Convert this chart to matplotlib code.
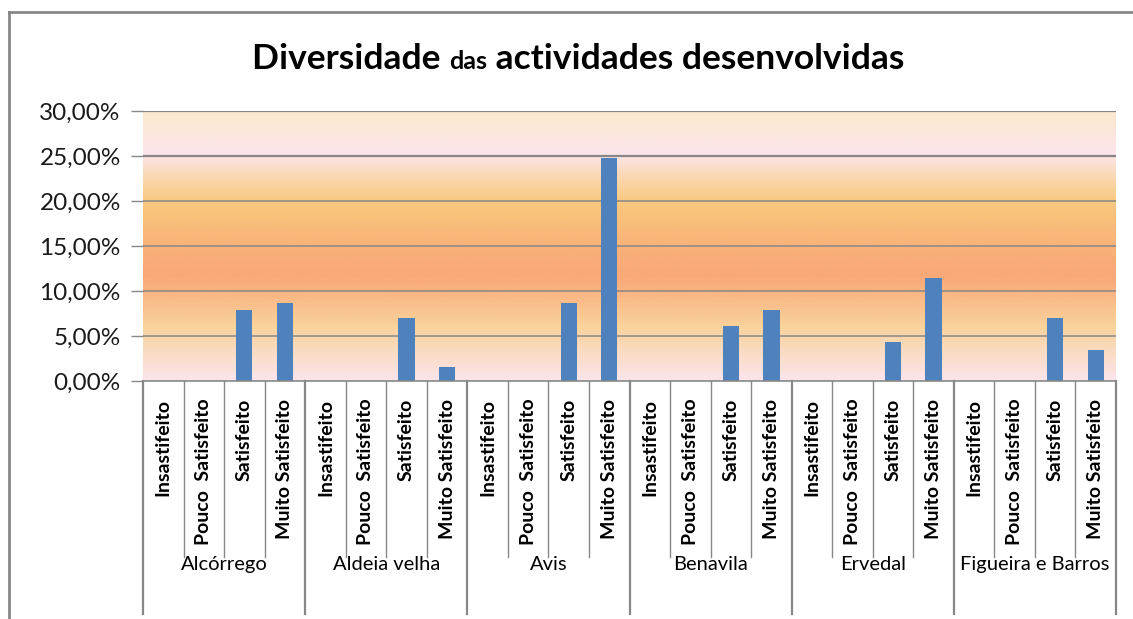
import numpy as np
import matplotlib
matplotlib.use("Agg")
import matplotlib.pyplot as plt
from matplotlib.colors import LinearSegmentedColormap
from matplotlib.lines import Line2D
from matplotlib.ticker import FuncFormatter
from matplotlib.transforms import blended_transform_factory

plt.rcParams["font.family"] = ["Lato", "DejaVu Sans"]

# data (percent)
groups = ["Alcórrego", "Aldeia velha", "Avis", "Benavila", "Ervedal", "Figueira e Barros"]
levels = ["Insastifeito", "Pouco  Satisfeito", "Satisfeito", "Muito Satisfeito"]
insatisfeito = [0, 0, 0, 0, 0, 0]
pouco_satisfeito = [0, 0, 0, 0, 0, 0]
satisfeito = [7.9, 7.0, 8.7, 6.1, 4.3, 7.0]
muito_satisfeito = [8.7, 1.6, 24.8, 7.9, 11.4, 3.5]
yticks = [0, 5, 10, 15, 20, 25, 30]

series = [insatisfeito, pouco_satisfeito, satisfeito, muito_satisfeito]
W, H = 1133, 619
fig = plt.figure(figsize=(W / 100, H / 100), dpi=100)
ax = fig.add_axes([143 / W, 1 - 381 / H, (1116 - 143) / W, (381 - 111) / H])

n = len(groups) * len(levels)
xs, vals = [], []
for g in range(len(groups)):
    for j in range(len(levels)):
        xs.append(g * len(levels) + j)
        vals.append(series[j][g])

# gradient background
stops = [(0.00, "#fce4ec"), (0.10, "#fadcc4"), (0.20, "#f9d29c"), (0.30, "#f9bb88"),
         (0.39, "#f9a877"), (0.50, "#f9b27a"), (0.62, "#f8c27a"), (0.67, "#f9c983"),
         (0.76, "#fad8b2"), (0.84, "#fce5ea"), (0.90, "#fce6e2"), (1.00, "#fbe9ce")]
cmap = LinearSegmentedColormap.from_list("bg", stops)
grad = np.linspace(0, 1, 400).reshape(-1, 1)
ax.imshow(grad, extent=[-0.5, n - 0.5, 0, 30], aspect="auto", cmap=cmap,
          origin="lower", zorder=0)

for t in yticks[1:]:
    ax.axhline(t, color="#878787", lw=1.6 if t >= 25 else 1.1, zorder=1)

ax.bar(xs, vals, width=0.4, color="#4f81bd", zorder=2)

ax.set_xlim(-0.5, n - 0.5)
ax.set_ylim(0, 30)
ax.set_yticks(yticks)
ax.yaxis.set_major_formatter(FuncFormatter(lambda v, p: f"{v:.2f}%".replace(".", ",")))
ax.tick_params(axis="y", length=9, width=1, color="#878787", labelsize=17.5, pad=7,
               labelcolor="#1a1a1a")
ax.set_xticks([])
for s in ["left", "right", "top"]:
    ax.spines[s].set_visible(False)
ax.spines["bottom"].set_color("#878787")
ax.spines["bottom"].set_linewidth(1.2)

# multi-level category axis
trans = blended_transform_factory(ax.transData, ax.transAxes)
for k in range(n + 1):
    edge = k % len(levels) == 0
    ax.add_line(Line2D([k - 0.5, k - 0.5], [0, -0.863 if edge else -0.652], transform=trans,
                       color="#878787", lw=1.6 if edge else 1.0, clip_on=False))
for i, x in enumerate(xs):
    ax.text(x, -0.066, levels[i % len(levels)], transform=trans, rotation=90,
            ha="center", va="top", fontsize=14, fontweight="bold", color="black")
for g, name in enumerate(groups):
    ax.text(g * len(levels) + 1.5, -0.681, name, transform=trans, ha="center",
            va="center", fontsize=14.5, color="black")

# outer chart border
fig.add_artist(Line2D([9 / W, 9 / W], [1 - 12 / H, 0], transform=fig.transFigure,
                      color="#878787", lw=2))
fig.add_artist(Line2D([9 / W, 1], [1 - 12 / H, 1 - 12 / H], transform=fig.transFigure,
                      color="#878787", lw=2))

# title with smaller "das"
parts = [("Diversidade ", 25.5), ("das", 18), (" actividades desenvolvidas", 25.5)]
r = fig.canvas.get_renderer()
texts = [fig.text(0, 1 - 69 / H, s, fontsize=fs, fontweight="bold", va="baseline", ha="left")
         for s, fs in parts]
widths = [t.get_window_extent(r).width for t in texts]
x0 = 578 - sum(widths) / 2
for t, w in zip(texts, widths):
    t.set_x(x0 / W)
    x0 += w

fig.savefig("out.png", dpi=100)
